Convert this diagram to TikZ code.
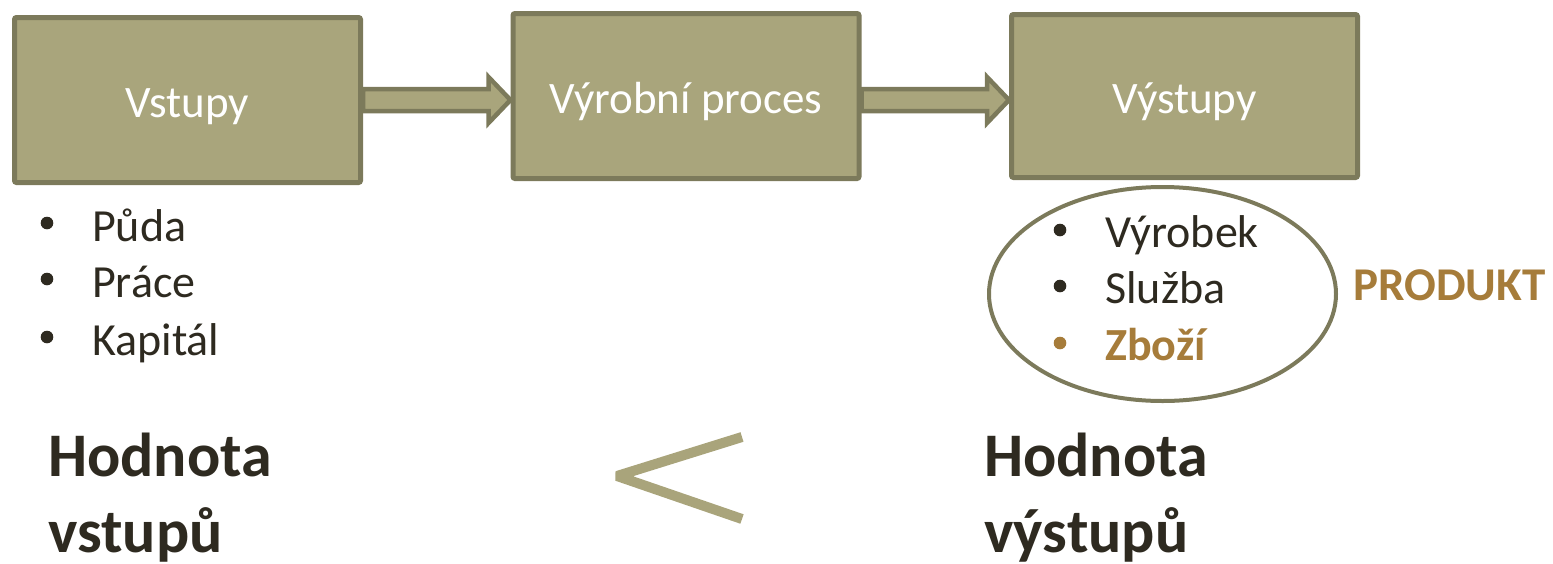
\documentclass[tikz,border=0pt]{standalone}
\usepackage{fontspec}
\setmainfont{Carlito}
\usetikzlibrary{calc,shapes.geometric}
\pgfdeclarelayer{background}
\pgfsetlayers{background,main}
\definecolor{boxfill}{HTML}{A9A57C}
\definecolor{boxline}{HTML}{7C7A5B}
\definecolor{darktext}{HTML}{2E2A20}
\definecolor{goldtext}{HTML}{A67C3A}
\definecolor{ltcolor}{HTML}{A9A47B}
\tikzset{
  stagebox/.style={draw=boxline, fill=boxfill, line width=5pt, rounded corners=2pt,
    minimum width=346pt, minimum height=165pt, inner sep=0pt,
    text=white, font=\fontsize{45}{54}\selectfont, text height=34pt, text depth=0pt},
  blockarr/.style={draw=boxline, fill=boxfill, line width=4.5pt, line join=miter},
  listitem/.style={anchor=base west, inner sep=0pt, text=darktext, font=\fontsize{46}{55}\selectfont},
  dotmark/.style={fill=darktext},
  bigtext/.style={anchor=base west, inner sep=0pt, text=darktext, font=\fontsize{62}{74}\selectfont\bfseries},
  ovalmark/.style={draw=boxline, line width=4pt, ellipse, minimum width=347pt, minimum height=214pt, inner sep=0pt},
}
\begin{document}
\begin{tikzpicture}[x=1pt,y=-1pt]
\useasboundingbox (0,0) rectangle (1553,563);
\node[stagebox] (b1) at (187.5,100) {Vstupy};
\node[stagebox] (b2) at (686,96) {Výrobní proces};
\node[stagebox, minimum height=163pt] (b3) at (1184.5,96) {Výstupy};
\begin{pgfonlayer}{background}
\draw[blockarr] ($(b1.east)+(0,-11)$) -- ($(b2.west |- b1.east)+(-22,-11)$) -- ++(0,-12) -- ++(22,23) -- ++(-22,23) -- ++(0,-12) -- ($(b1.east)+(0,11)$) -- cycle;
\draw[blockarr] ($(b2.east |- b1.east)+(0,-11)$) -- ($(b3.west |- b1.east)+(-22,-11)$) -- ++(0,-12) -- ++(22,23) -- ++(-22,23) -- ++(0,-12) -- ($(b2.east |- b1.east)+(0,11)$) -- cycle;
\end{pgfonlayer}
% left list
\node[listitem] (l1) at (92,241) {Půda};
\node[listitem] (l2) at (92,297) {Práce};
\node[listitem] (l3) at (92,355) {Kapitál};
\fill[dotmark] (47,223) circle (6.3);
\fill[dotmark] (47,279) circle (6.3);
\fill[dotmark] (47,337) circle (6.3);
% ellipse and right list
\node[ovalmark] (oval) at (1162.5,294) {};
\node[listitem] (r1) at (1105,247) {Výrobek};
\node[listitem] (r2) at (1105,303) {Služba};
\node[listitem, text=goldtext, font=\fontsize{46}{55}\selectfont\bfseries] (r3) at (1105,360) {Zboží};
\fill[dotmark] (1060,230) circle (6.3);
\fill[dotmark] (1060,286) circle (6.3);
\fill[fill=goldtext] (1060,343) circle (6.3);
\node[anchor=base west, inner sep=0pt, text=goldtext, font=\fontsize{47}{56}\selectfont\bfseries] (prod) at (1353,300) {PRODUKT};
% bottom
\node[bigtext] (h1) at (48,476) {Hodnota};
\node[bigtext] (h2) at (48,552) {vstupů};
\node[bigtext] (h3) at (984,476) {Hodnota};
\node[bigtext] (h4) at (984,552) {výstupů};
\coordinate (lta) at (742,437);
\coordinate (ltb) at (617,476);
\coordinate (ltc) at (742,519);
\draw[ltcolor, line width=10pt, line join=bevel] (lta) -- (ltb) -- (ltc);
\end{tikzpicture}
\end{document}
